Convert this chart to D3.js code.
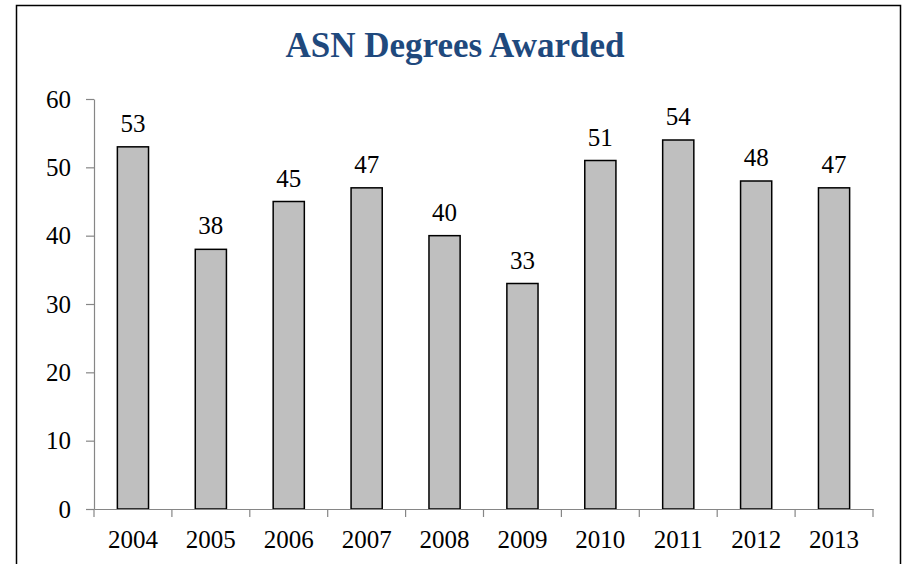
<!DOCTYPE html>
<html>
<head>
<meta charset="utf-8">
<script src="https://cdn.jsdelivr.net/npm/d3@7"></script>
<style>
  body { margin: 0; background: #fff; }
  svg { display: block; }
  svg text { font-family: "Liberation Serif", "Times New Roman", serif; }
</style>
</head>
<body>
<svg id="chart"></svg>
<script>
const years = ['2004', '2005', '2006', '2007', '2008', '2009', '2010', '2011', '2012', '2013'];
const degrees = [53, 38, 45, 47, 40, 33, 51, 54, 48, 47];
const yTicks = [0, 10, 20, 30, 40, 50, 60];

const width = 902;
const height = 564;
const margin = { top: 99, right: 29, bottom: 55, left: 94 };
const serif = '"Liberation Serif", "Times New Roman", serif';

const svg = d3.select('#chart')
  .attr('width', width)
  .attr('height', height);

// outer frame (bottom edge runs off the picture)
svg.append('rect')
  .attr('x', 16.5)
  .attr('y', 5.5)
  .attr('width', 884)
  .attr('height', 700)
  .attr('fill', 'none')
  .attr('stroke', '#000')
  .attr('stroke-width', 1.5);

svg.append('text')
  .attr('x', 455)
  .attr('y', 57)
  .attr('text-anchor', 'middle')
  .style('font-family', serif)
  .style('font-weight', 'bold')
  .style('font-size', '35px')
  .attr('fill', '#1F497D')
  .text('ASN Degrees Awarded');

const x = d3.scaleBand()
  .domain(years)
  .range([margin.left, width - margin.right])
  .paddingInner(0.6)
  .paddingOuter(0.3);

const y = d3.scaleLinear()
  .domain([0, 60])
  .range([height - margin.bottom, margin.top]);

// bars
svg.selectAll('.bar')
  .data(years)
  .enter()
  .append('rect')
  .attr('class', 'bar')
  .attr('x', d => x(d))
  .attr('y', (d, i) => y(degrees[i]))
  .attr('width', x.bandwidth())
  .attr('height', (d, i) => y(0) - y(degrees[i]))
  .attr('fill', '#BFBFBF')
  .attr('stroke', '#000')
  .attr('stroke-width', 1.5);

// value labels
svg.selectAll('.val')
  .data(years)
  .enter()
  .append('text')
  .attr('class', 'val')
  .attr('x', d => x(d) + x.bandwidth() / 2)
  .attr('y', (d, i) => y(degrees[i]) - 15)
  .attr('text-anchor', 'middle')
  .style('font-family', serif)
  .style('font-size', '25px')
  .attr('fill', '#000')
  .text((d, i) => degrees[i]);

// y axis
const yAxis = d3.axisLeft(y)
  .tickValues(yTicks)
  .tickSize(8)
  .tickPadding(15)
  .tickSizeOuter(0);

const gy = svg.append('g')
  .attr('transform', `translate(${margin.left}, 0)`)
  .call(yAxis);

// x axis: ticks sit between categories
const xAxis = d3.axisBottom(x)
  .tickSize(0)
  .tickPadding(21)
  .tickSizeOuter(0);

const gx = svg.append('g')
  .attr('transform', `translate(0, ${height - margin.bottom})`)
  .call(xAxis);

const step = x.step();
gx.selectAll('.sep')
  .data(d3.range(years.length + 1))
  .enter()
  .append('line')
  .attr('class', 'sep')
  .attr('x1', i => margin.left + i * step)
  .attr('x2', i => margin.left + i * step)
  .attr('y1', 0)
  .attr('y2', 8);

[gx, gy].forEach(g => {
  g.attr('font-family', null).attr('font-size', null);
  g.selectAll('path, line').attr('stroke', '#868686').attr('stroke-width', 1.2);
  g.selectAll('text')
    .style('font-family', serif)
    .style('font-size', '25px')
    .attr('fill', '#000');
});
</script>
</body>
</html>
